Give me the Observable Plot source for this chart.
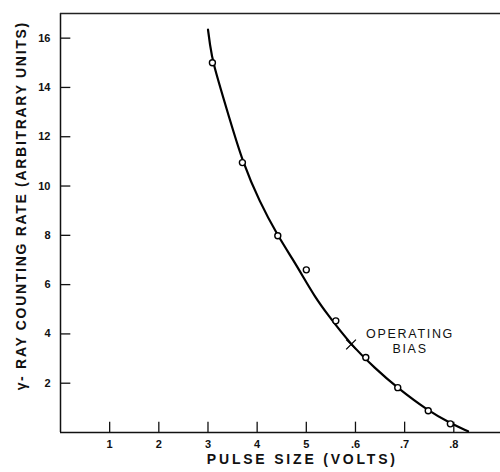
<!DOCTYPE html>
<html>
<head>
<meta charset="utf-8">
<script src="https://cdn.jsdelivr.net/npm/d3@7"></script>
<script src="https://cdn.jsdelivr.net/npm/@observablehq/plot@0.6"></script>
<style>
  html, body { margin: 0; padding: 0; background: #fff; }
  #chart svg { display: block; }
</style>
</head>
<body>
<div id="chart"></div>
<script>
// Measured points (pulse size in volts, counting rate)
const pointX = [0.309, 0.370, 0.442, 0.500, 0.560, 0.621, 0.686, 0.748, 0.793];
const pointY = [15.0, 10.95, 7.98, 6.6, 4.53, 3.04, 1.82, 0.88, 0.35];

// Smooth curve
const curveX = [0.300, 0.304, 0.309, 0.345, 0.370, 0.405, 0.442, 0.474, 0.494, 0.518, 0.542, 0.589, 0.640, 0.686, 0.748, 0.793, 0.829];
const curveY = [16.35, 15.75, 15.05, 12.66, 11.0, 9.35, 7.98, 6.98, 6.3, 5.49, 4.82, 3.6, 2.6, 1.8, 0.88, 0.38, 0.05];

// Operating bias marker
const biasX = [0.591];
const biasY = [3.57];

// Annotation
const noteText = ["OPERATING\nBIAS"];
const noteX = [0.711];
const noteY = [3.72];

// Axes
const xTicks = [0.1, 0.2, 0.3, 0.4, 0.5, 0.6, 0.7, 0.8];
const xTickLabels = ["1", "2", "3", "4", "5", ".6", ".7", ".8"];
const yTicks = [2, 4, 6, 8, 10, 12, 14, 16];
const yTickLabels = ["2", "4", "6", "8", "10", "12", "14", "16"];
const xTitle = "PULSE SIZE (VOLTS)";
const yTitle = "γ- RAY COUNTING RATE (ARBITRARY UNITS)";

const points = pointX.map((x, i) => ({x, y: pointY[i]}));
const curve = curveX.map((x, i) => ({x, y: curveY[i]}));
const bias = biasX.map((x, i) => ({x, y: biasY[i]}));
const notes = noteText.map((t, i) => ({t, x: noteX[i], y: noteY[i]}));

const font = "'Liberation Sans', Arial, sans-serif";

const chart = Plot.plot({
  width: 500,
  height: 472,
  marginLeft: 60,
  marginRight: 0,
  marginTop: 13,
  marginBottom: 40,
  style: {fontFamily: font, color: "#111", background: "#fff"},
  x: {domain: [0, 0.895], axis: null},
  y: {domain: [0, 17], axis: null},
  marks: [
    // frame
    Plot.ruleX([0], {stroke: "#111", strokeWidth: 1.5}),
    Plot.ruleY([0], {stroke: "#111", strokeWidth: 1.5}),
    Plot.ruleY([17], {stroke: "#222", strokeWidth: 1.5}),
    // inward ticks
    Plot.ruleX(xTicks, {x: d => d, y1: 0, y2: 0.42, stroke: "#111", strokeWidth: 1.3}),
    Plot.ruleY(yTicks, {y: d => d, x1: 0, x2: 0.021, stroke: "#111", strokeWidth: 1.3}),
    // tick labels
    Plot.axisX(xTicks, {
      anchor: "bottom", tickSize: 0, tickPadding: 8,
      tickFormat: (d, i) => xTickLabels[i], label: null,
      fontSize: 11, fontWeight: "bold"
    }),
    Plot.axisY(yTicks, {
      anchor: "left", tickSize: 0, tickPadding: 10,
      tickFormat: (d, i) => yTickLabels[i], label: null,
      fontSize: 11, fontWeight: "bold"
    }),
    // axis titles
    Plot.text([xTitle], {
      frameAnchor: "bottom", dy: 31, dx: 1.4,
      x: () => 0.489, textAnchor: "middle",
      fontSize: 14, fontWeight: "bold"
    }),
    Plot.text([yTitle], {
      frameAnchor: "left", dx: -39, y: () => 9.2, textAnchor: "middle",
      rotate: -90, fontSize: 14, fontWeight: "bold"
    }),
    // curve
    Plot.line(curve, {x: "x", y: "y", curve: "basis", stroke: "#000", strokeWidth: 2.2}),
    // data points
    Plot.dot(points, {x: "x", y: "y", r: 3, fill: "#fff", stroke: "#000", strokeWidth: 1.4}),
    Plot.dot(bias, {x: "x", y: "y", symbol: "times", r: 4.5, stroke: "#000", strokeWidth: 1.3}),
    // annotation
    Plot.text(notes, {
      x: "x", y: "y", text: "t", fontSize: 12.5, lineHeight: 1.15,
      textAnchor: "middle"
    })
  ]
});

document.getElementById("chart").appendChild(chart);
const spacing = new Map([[xTitle, "2.8px"], [yTitle, "1.7px"]]);
d3.select(chart).selectAll("text").each(function() {
  const t = this.textContent;
  if (spacing.has(t)) d3.select(this).style("letter-spacing", spacing.get(t));
  if (t.startsWith("OPERATING")) d3.select(this).style("letter-spacing", "1.7px");
});
</script>
</body>
</html>
